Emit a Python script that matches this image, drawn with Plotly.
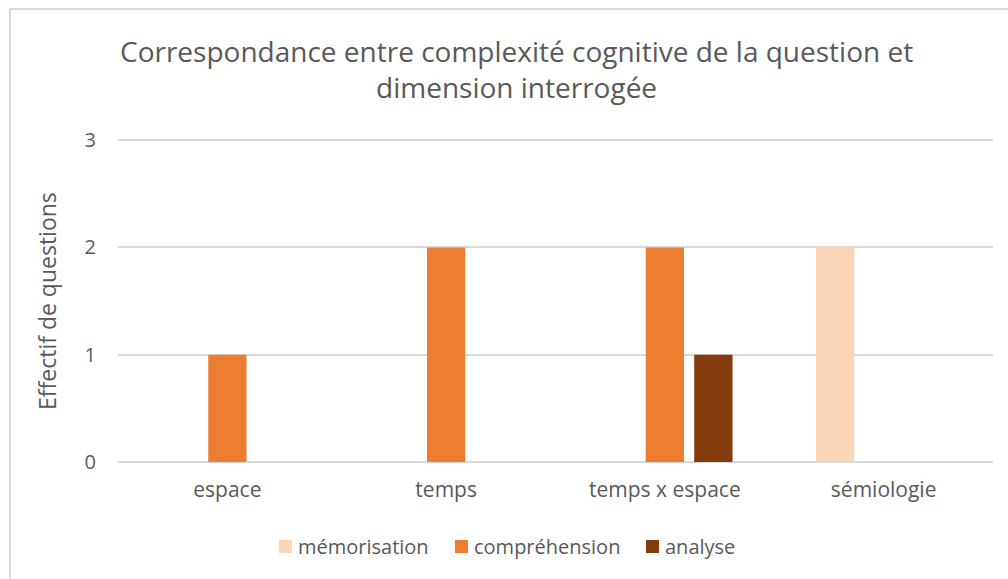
import plotly.graph_objects as go

categories = ["espace", "temps", "temps x espace", "sémiologie"]
series_names = ["mémorisation", "compréhension", "analyse"]
memorisation = [0, 0, 0, 2]
comprehension = [1, 2, 2, 0]
analyse = [0, 0, 1, 0]
y_ticks = [0, 1, 2, 3]

colors = ["#FBD5B5", "#ED7D31", "#843C0C"]
values = [memorisation, comprehension, analyse]

W, H = 1008, 579
L, R, T, B = 118, 15, 138, 117
pw, ph = W - L - R, H - T - B

FONT = "Open Sans"
GRAY = "#595959"
GRID = "#D9D9D9"


def px_x(x):
    return (x - L) / pw


def px_y(y):
    return (H - B - y) / ph


fig = go.Figure()
for name, vals, col in zip(series_names, values, colors):
    fig.add_trace(go.Bar(
        name=name, x=categories, y=vals, marker_color=col,
        marker_line_width=0, showlegend=False,
    ))

fig.update_layout(
    width=W, height=H,
    margin=dict(l=L, r=R, t=T, b=B, autoexpand=False),
    paper_bgcolor="white", plot_bgcolor="white",
    barmode="group", bargap=0.335, bargroupgap=0.21,
    font=dict(family=FONT, color=GRAY, size=20),
    xaxis=dict(
        showgrid=False, showline=False, zeroline=False,
        ticks="", ticklabelstandoff=13,
        tickfont=dict(size=21, color=GRAY),
    ),
    yaxis=dict(
        range=[0, 3.02], tickvals=y_ticks, showgrid=True, gridcolor=GRID,
        gridwidth=1.5, zeroline=True, zerolinecolor=GRID, zerolinewidth=1.5,
        showline=False, ticks="", ticklabelstandoff=21,
        tickfont=dict(size=20, color=GRAY),
    ),
    showlegend=False,
)

# title
fig.add_annotation(
    text="Correspondance entre complexité cognitive de la question et<br>dimension interrogée",
    xref="paper", yref="paper", x=px_x(516), y=px_y(69),
    xanchor="center", yanchor="middle", showarrow=False, align="center",
    font=dict(family=FONT, size=28, color=GRAY),
)

# y-axis title
fig.add_annotation(
    text="Effectif de questions", textangle=-90,
    xref="paper", yref="paper", x=px_x(47), y=px_y(301),
    xanchor="center", yanchor="middle", showarrow=False,
    font=dict(family=FONT, size=23, color=GRAY),
)

# legend: colour square followed by series name
legend_square_x = [279, 455, 646]
for name, col, sx in zip(series_names, colors, legend_square_x):
    fig.add_shape(type="rect", xref="paper", yref="paper",
                  x0=px_x(sx), x1=px_x(sx + 13),
                  y0=px_y(540), y1=px_y(553),
                  fillcolor=col, line=dict(width=0))
    fig.add_annotation(
        text=name, xref="paper", yref="paper",
        x=px_x(sx + 17), y=px_y(546), xanchor="left", yanchor="middle",
        showarrow=False, font=dict(family=FONT, size=20, color=GRAY),
    )

# chart frame (left and top edges)
fig.add_shape(type="line", xref="paper", yref="paper",
              x0=px_x(10), x1=px_x(10), y0=px_y(9), y1=px_y(H + 5),
              line=dict(color=GRID, width=2))
fig.add_shape(type="line", xref="paper", yref="paper",
              x0=px_x(10), x1=px_x(W + 5), y0=px_y(9), y1=px_y(9),
              line=dict(color=GRID, width=2))

fig.write_html("out.html")
